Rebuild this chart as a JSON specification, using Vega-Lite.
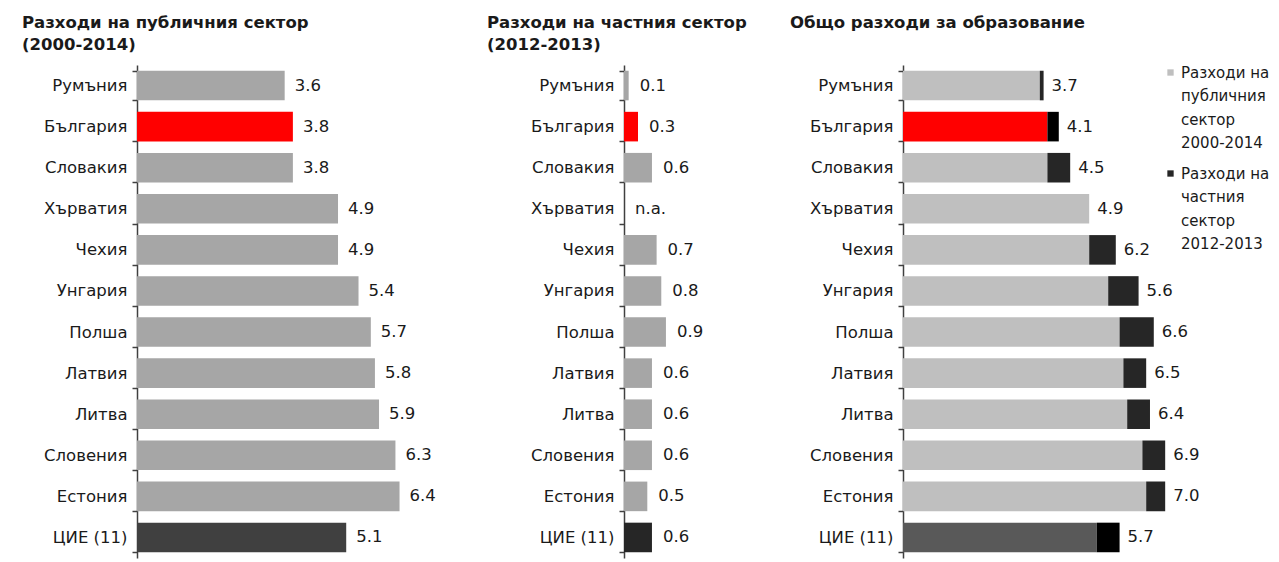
{
  "$schema": "https://vega.github.io/schema/vega-lite/v6.json",
  "padding": {"left": 22, "top": 14, "right": 0, "bottom": 4},
  "background": "white",
  "datasets": {
    "rows": [
      {"country": "Румъния", "group": "other", "public": 3.6, "private": 0.1, "total": 3.7, "pubLabel": "3.6", "privLabel": "0.1", "totLabel": "3.7"},
      {"country": "България", "group": "bg", "public": 3.8, "private": 0.3, "total": 4.1, "pubLabel": "3.8", "privLabel": "0.3", "totLabel": "4.1"},
      {"country": "Словакия", "group": "other", "public": 3.8, "private": 0.6, "total": 4.4, "pubLabel": "3.8", "privLabel": "0.6", "totLabel": "4.5"},
      {"country": "Хърватия", "group": "other", "public": 4.9, "private": 0, "total": 4.9, "pubLabel": "4.9", "privLabel": "n.a.", "totLabel": "4.9"},
      {"country": "Чехия", "group": "other", "public": 4.9, "private": 0.7, "total": 5.6, "pubLabel": "4.9", "privLabel": "0.7", "totLabel": "6.2"},
      {"country": "Унгария", "group": "other", "public": 5.4, "private": 0.8, "total": 6.2, "pubLabel": "5.4", "privLabel": "0.8", "totLabel": "5.6"},
      {"country": "Полша", "group": "other", "public": 5.7, "private": 0.9, "total": 6.6, "pubLabel": "5.7", "privLabel": "0.9", "totLabel": "6.6"},
      {"country": "Латвия", "group": "other", "public": 5.8, "private": 0.6, "total": 6.4, "pubLabel": "5.8", "privLabel": "0.6", "totLabel": "6.5"},
      {"country": "Литва", "group": "other", "public": 5.9, "private": 0.6, "total": 6.5, "pubLabel": "5.9", "privLabel": "0.6", "totLabel": "6.4"},
      {"country": "Словения", "group": "other", "public": 6.3, "private": 0.6, "total": 6.9, "pubLabel": "6.3", "privLabel": "0.6", "totLabel": "6.9"},
      {"country": "Естония", "group": "other", "public": 6.4, "private": 0.5, "total": 6.9, "pubLabel": "6.4", "privLabel": "0.5", "totLabel": "7.0"},
      {"country": "ЦИЕ (11)", "group": "cee", "public": 5.1, "private": 0.6, "total": 5.7, "pubLabel": "5.1", "privLabel": "0.6", "totLabel": "5.7"}
    ]
  },
  "bounds": "flush",
  "spacing": 190,
  "resolve": {"scale": {"color": "independent"}, "legend": {"color": "independent"}},
  "hconcat": [
    {
      "data": {"name": "rows"},
      "width": 297,
      "height": 493,
      "title": {"text": ["Разходи на публичния сектор", "(2000-2014)"]},
      "encoding": {
        "y": {"field": "country", "type": "nominal", "sort": null,
              "scale": {"paddingInner": 0.28, "paddingOuter": 0.14},
              "axis": {"minExtent": 115}}
      },
      "layer": [
        {"mark": {"type": "bar"},
         "encoding": {
           "x": {"field": "public", "type": "quantitative", "scale": {"domain": [0, 7.24], "nice": false}, "axis": null},
           "color": {"field": "group", "type": "nominal", "scale": {"domain": ["other", "bg", "cee"], "range": ["#A6A6A6", "#FF0000", "#404040"]}, "legend": null}
         }},
        {"mark": {"type": "text", "align": "left", "baseline": "middle", "dx": 10},
         "encoding": {
           "x": {"field": "public", "type": "quantitative"},
           "text": {"field": "pubLabel"}
         }}
      ]
    },
    {
      "data": {"name": "rows"},
      "width": 89,
      "height": 493,
      "title": {"text": ["Разходи на частния сектор", "(2012-2013)"]},
      "encoding": {
        "y": {"field": "country", "type": "nominal", "sort": null,
              "scale": {"paddingInner": 0.28, "paddingOuter": 0.14},
              "axis": {"minExtent": 137}}
      },
      "layer": [
        {"mark": {"type": "bar"},
         "encoding": {
           "x": {"field": "private", "type": "quantitative", "scale": {"domain": [0, 1.91], "nice": false}, "axis": null},
           "color": {"field": "group", "type": "nominal", "scale": {"domain": ["other", "bg", "cee"], "range": ["#A6A6A6", "#FF0000", "#262626"]}, "legend": null}
         }},
        {"mark": {"type": "text", "align": "left", "baseline": "middle", "dx": 11},
         "encoding": {
           "x": {"field": "private", "type": "quantitative"},
           "text": {"field": "privLabel"}
         }}
      ]
    },
    {
      "width": 372,
      "height": 493,
      "title": {"text": ["Общо разходи за образование", " "]},
      "layer": [
        {"data": {"name": "rows"},
         "mark": {"type": "bar"},
         "encoding": {
           "y": {"field": "country", "type": "nominal", "sort": null,
                 "scale": {"paddingInner": 0.28, "paddingOuter": 0.14}, "axis": {"minExtent": 113}},
           "x": {"field": "public", "type": "quantitative", "scale": {"domain": [0, 9.79], "nice": false}, "axis": null},
           "color": {"condition": [{"test": "datum.group === 'bg'", "value": "#FF0000"}, {"test": "datum.group === 'cee'", "value": "#595959"}], "value": "#BFBFBF"}
         }},
        {"data": {"name": "rows"},
         "mark": {"type": "bar"},
         "encoding": {
           "y": {"field": "country", "type": "nominal", "sort": null},
           "x": {"field": "public", "type": "quantitative"},
           "x2": {"field": "total"},
           "color": {"condition": {"test": "datum.group !== 'other'", "value": "#000000"}, "value": "#262626"}
         }},
        {"data": {"name": "rows"},
         "mark": {"type": "text", "align": "left", "baseline": "middle", "dx": 8},
         "encoding": {
           "y": {"field": "country", "type": "nominal", "sort": null},
           "x": {"field": "total", "type": "quantitative"},
           "text": {"field": "totLabel"}
         }},
        {"data": {"values": [{"leg": "pub"}, {"leg": "priv"}]},
         "mark": {"type": "square", "opacity": 0},
         "encoding": {
           "color": {"field": "leg", "type": "nominal",
                     "scale": {"domain": ["pub", "priv"], "range": ["#BFBFBF", "#262626"]},
                     "legend": {"title": null, "orient": "none", "legendX": 260, "legendY": 0,
                                "symbolType": "square", "symbolSize": 40, "symbolOpacity": 1,
                                "labelFontSize": 15, "labelColor": "#1A1A1A", "labelLimit": 200,
                                "rowPadding": 15, "labelOffset": 3,
                                "labelExpr": "datum.value === 'pub' ? ['Разходи на', 'публичния', 'сектор', '2000-2014'] : ['Разходи на', 'частния', 'сектор', '2012-2013']"}}
         }}
      ]
    }
  ],
  "config": {
    "font": "DejaVu Sans",
    "view": {"stroke": null},
    "title": {"anchor": "start", "frame": "bounds", "fontSize": 16.5, "fontWeight": "bold", "color": "#1A1A1A", "lineHeight": 22, "offset": 4, "font": "DejaVu Sans"},
    "axisY": {"title": null, "tickBand": "extent", "tickSize": 5, "tickColor": "#404040", "domainColor": "#404040", "domainWidth": 1.5, "tickWidth": 1.5, "labelFontSize": 16.5, "labelPadding": 5, "labelColor": "#1A1A1A", "grid": false},
    "text": {"fontSize": 16.5, "color": "#1A1A1A"},
    "style": {"guide-label": {"lineHeight": 23.5}}
  }
}
